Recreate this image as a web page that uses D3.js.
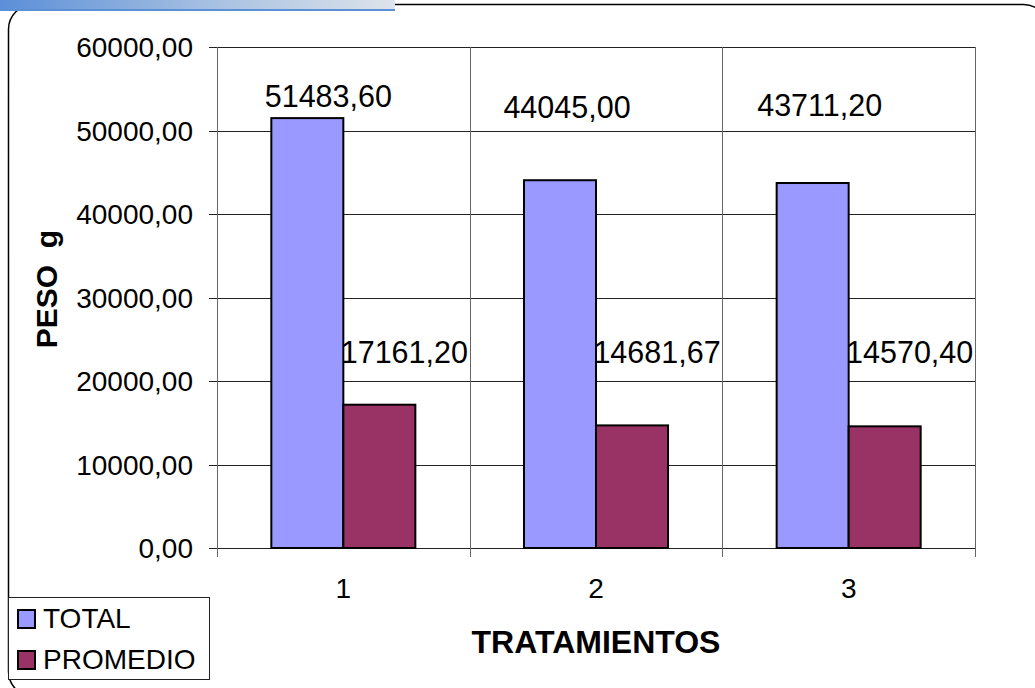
<!DOCTYPE html>
<html>
<head>
<meta charset="utf-8">
<script src="https://cdn.jsdelivr.net/npm/d3@7"></script>
<style>
  html, body { margin: 0; padding: 0; background: #fff; overflow: hidden; }
  svg { display: block; font-family: "Liberation Sans", Arial, sans-serif; }
</style>
</head>
<body>
<svg id="chart" width="1035" height="688"></svg>
<script>
// data
var categories = ["1", "2", "3"];
var seriesNames = ["TOTAL", "PROMEDIO"];
var totalValues = [51483.60, 44045.00, 43711.20];
var promedioValues = [17161.20, 14681.67, 14570.40];
var yTicks = [0, 10000, 20000, 30000, 40000, 50000, 60000];
var colors = ["#9999ff", "#993366"];

// hand placed data labels in the original (pixel nudges from bar centre / top)
var totalLabelNudge = [[21, -11], [7, -62], [7, -67]];
var promedioLabelBaseline = 363;
var promedioLabelDx = 25;

var svg = d3.select("#chart");

var plot = {left: 217, right: 975, top: 47, bottom: 548};

var locale = d3.formatLocale({decimal: ",", thousands: ".", grouping: [3], currency: ["", ""]});
var fmt = locale.format(".2f");

var x0 = d3.scaleBand()
  .domain(categories)
  .range([plot.left, plot.right])
  .paddingInner(0.43)
  .paddingOuter(0.215);

var x1 = d3.scaleBand()
  .domain(seriesNames)
  .range([0, x0.bandwidth()]);

var y = d3.scaleLinear()
  .domain([0, 60000])
  .range([plot.bottom, plot.top]);

var color = d3.scaleOrdinal().domain(seriesNames).range(colors);

// outer frame with rounded corners
svg.append("rect")
  .attr("x", 8.5).attr("y", 4.5)
  .attr("width", 1040).attr("height", 692)
  .attr("rx", 25).attr("ry", 25)
  .attr("fill", "#fff")
  .attr("stroke", "#000")
  .attr("stroke-width", 1.5);

// header gradient strip
var grad = svg.append("defs").append("linearGradient")
  .attr("id", "hdr").attr("x1", "0%").attr("x2", "100%");
grad.append("stop").attr("offset", "0%").attr("stop-color", "#5b8fd8");
grad.append("stop").attr("offset", "55%").attr("stop-color", "#a9c2e2");
grad.append("stop").attr("offset", "100%").attr("stop-color", "#dde3ea");

svg.append("rect")
  .attr("x", 0).attr("y", 0)
  .attr("width", 395).attr("height", 11)
  .attr("fill", "url(#hdr)");
svg.append("rect")
  .attr("x", 0).attr("y", 9)
  .attr("width", 395).attr("height", 2)
  .attr("fill", "#5b8fd6");

// horizontal gridlines
svg.append("g")
  .selectAll("line")
  .data(yTicks)
  .enter()
  .append("line")
  .attr("x1", plot.left - 8).attr("x2", plot.right)
  .attr("y1", function(d) { return Math.round(y(d)) + 0.5; })
  .attr("y2", function(d) { return Math.round(y(d)) + 0.5; })
  .attr("stroke", "#222")
  .attr("stroke-width", 1);

// vertical lines at category boundaries
var bounds = categories.map(function(c) { return x0(c) - x0.step() * x0.paddingInner() / 2; });
bounds.push(plot.right);
svg.append("g")
  .selectAll("line")
  .data(bounds)
  .enter()
  .append("line")
  .attr("x1", function(d) { return Math.round(d) + 0.5; })
  .attr("x2", function(d) { return Math.round(d) + 0.5; })
  .attr("y1", plot.top).attr("y2", plot.bottom + 9)
  .attr("stroke", "#666")
  .attr("stroke-width", 1);

// y tick labels
svg.append("g")
  .selectAll("text")
  .data(yTicks)
  .enter()
  .append("text")
  .attr("x", 193)
  .attr("y", function(d) { return y(d); })
  .attr("dy", "0.36em")
  .attr("text-anchor", "end")
  .attr("font-size", 28)
  .attr("fill", "#000")
  .text(function(d) { return fmt(d); });

// bars
var rows = categories.map(function(c, i) {
  return {cat: c, values: [
    {name: "TOTAL", v: totalValues[i]},
    {name: "PROMEDIO", v: promedioValues[i]}
  ]};
});

var groups = svg.append("g")
  .selectAll("g")
  .data(rows)
  .enter()
  .append("g")
  .attr("transform", function(d) { return "translate(" + x0(d.cat) + ",0)"; });

groups.selectAll("rect")
  .data(function(d) { return d.values; })
  .enter()
  .append("rect")
  .attr("x", function(d) { return x1(d.name); })
  .attr("y", function(d) { return y(d.v); })
  .attr("width", x1.bandwidth())
  .attr("height", function(d) { return y(0) - y(d.v); })
  .attr("fill", function(d) { return color(d.name); })
  .attr("stroke", "#000")
  .attr("stroke-width", 2);

// data labels
groups.append("text")
  .attr("x", function(d, i) { return x1("TOTAL") + x1.bandwidth() / 2 + totalLabelNudge[i][0]; })
  .attr("y", function(d, i) { return y(totalValues[i]) + totalLabelNudge[i][1]; })
  .attr("text-anchor", "middle")
  .attr("font-size", 30.5)
  .text(function(d, i) { return fmt(totalValues[i]); });

groups.append("text")
  .attr("x", function(d) { return x1("PROMEDIO") + x1.bandwidth() / 2 + promedioLabelDx; })
  .attr("y", promedioLabelBaseline)
  .attr("text-anchor", "middle")
  .attr("font-size", 30.5)
  .text(function(d, i) { return fmt(promedioValues[i]); });

// category labels
svg.append("g")
  .selectAll("text")
  .data(categories)
  .enter()
  .append("text")
  .attr("x", function(d) { return x0(d) + x0.bandwidth() / 2; })
  .attr("y", 598)
  .attr("text-anchor", "middle")
  .attr("font-size", 28)
  .text(function(d) { return d; });

// axis titles
svg.append("text")
  .attr("x", (plot.left + plot.right) / 2)
  .attr("y", 653)
  .attr("text-anchor", "middle")
  .attr("font-size", 32)
  .attr("font-weight", "bold")
  .text("TRATAMIENTOS");

svg.append("text")
  .attr("transform", "translate(57,289) rotate(-90)")
  .attr("text-anchor", "middle")
  .attr("font-size", 30)
  .attr("font-weight", "bold")
  .attr("xml:space", "preserve")
  .text("PESO  g");

// legend
var legend = svg.append("g");
legend.append("rect")
  .attr("x", 8.5).attr("y", 597.5)
  .attr("width", 201).attr("height", 82)
  .attr("fill", "#fff")
  .attr("stroke", "#222")
  .attr("stroke-width", 1);

var items = legend.selectAll("g.item")
  .data(seriesNames)
  .enter()
  .append("g")
  .attr("class", "item")
  .attr("transform", function(d, i) { return "translate(0," + (i * 41) + ")"; });

items.append("rect")
  .attr("x", 18).attr("y", 610)
  .attr("width", 17).attr("height", 18)
  .attr("fill", function(d) { return color(d); })
  .attr("stroke", "#000")
  .attr("stroke-width", 2);

items.append("text")
  .attr("x", 43).attr("y", 628)
  .attr("font-size", 28)
  .text(function(d) { return d; });
</script>
</body>
</html>
